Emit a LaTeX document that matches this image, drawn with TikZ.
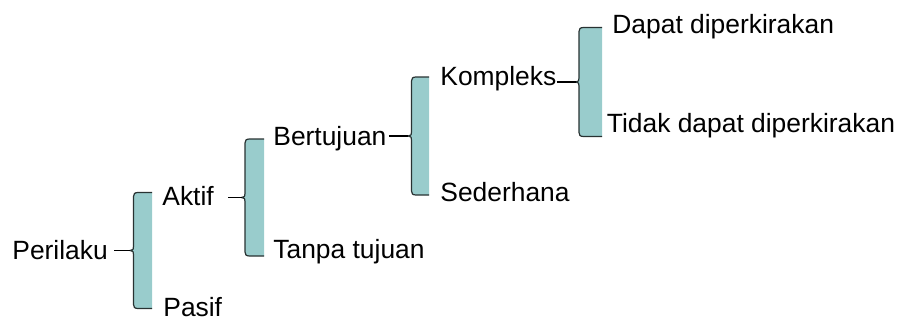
\documentclass[tikz,border=0pt]{standalone}
\usepackage{fontspec}
\setmainfont{Liberation Sans}
\usetikzlibrary{calc}

\definecolor{bracketfill}{RGB}{153,204,204}
\definecolor{bracketline}{RGB}{40,50,50}

\tikzset{
  term/.style={anchor=base west, inner sep=0pt, font=\fontsize{13.2bp}{16bp}\selectfont},
  link/.style={line width=0.6bp, black},
  pics/bracket/.style n args={2}{code={
    \draw[line width=0.6bp, draw=bracketline, fill=bracketfill]
      (#1,-#2) -- (8,-#2) .. controls (4.5,-#2) and (3.5,-#2+1.5) .. (3.5,-#2+4)
      -- (3.5,-4) .. controls (3.5,-1) .. (0,0)
      .. controls (3.5,1) .. (3.5,4)
      -- (3.5,#2-4) .. controls (3.5,#2-1.5) and (4.5,#2) .. (8,#2) -- (#1,#2);
  }}
}

\begin{document}
\begin{tikzpicture}[x=0.5bp, y=-0.5bp]
\useasboundingbox (0,0) rectangle (900,320);
% Tips of the brackets
\coordinate (tip1) at (130,250.5);
\coordinate (tip2) at (241.5,197.5);
\coordinate (tip3) at (408,136);
\coordinate (tip4) at (575.5,82);
% Draw brackets
\pic at (tip1) {bracket={22}{58}};
\pic at (tip2) {bracket={22.5}{58.5}};
\pic at (tip3) {bracket={21}{59}};
\pic at (tip4) {bracket={26.5}{54.5}};
% Draw terms
\node[term] (perilaku) at (12,259) {Perilaku};
\node[term] (aktif) at (162,205) {Aktif};
\node[term] (pasif) at (163,316.5) {Pasif};
\node[term] (bertujuan) at (273,145) {Bertujuan};
\node[term] (tanpa) at (273,258.3) {Tanpa tujuan};
\node[term] (kompleks) at (440,85) {Kompleks};
\node[term] (sederhana) at (440,201) {Sederhana};
\node[term] (dapat) at (612,33.3) {Dapat diperkirakan};
\node[term] (tidak) at (606.5,132.7) {Tidak dapat diperkirakan};
% Draw links to the brackets
\draw[link, shorten <=3bp] (perilaku.east |- tip1) -- (tip1);
\draw[link, shorten <=7bp] (aktif.east |- tip2) -- (tip2);
\draw[link, shorten <=1bp] (bertujuan.east |- tip3) -- (tip3);
\draw[link] (kompleks.east |- tip4) -- (tip4);
\end{tikzpicture}
\end{document}
